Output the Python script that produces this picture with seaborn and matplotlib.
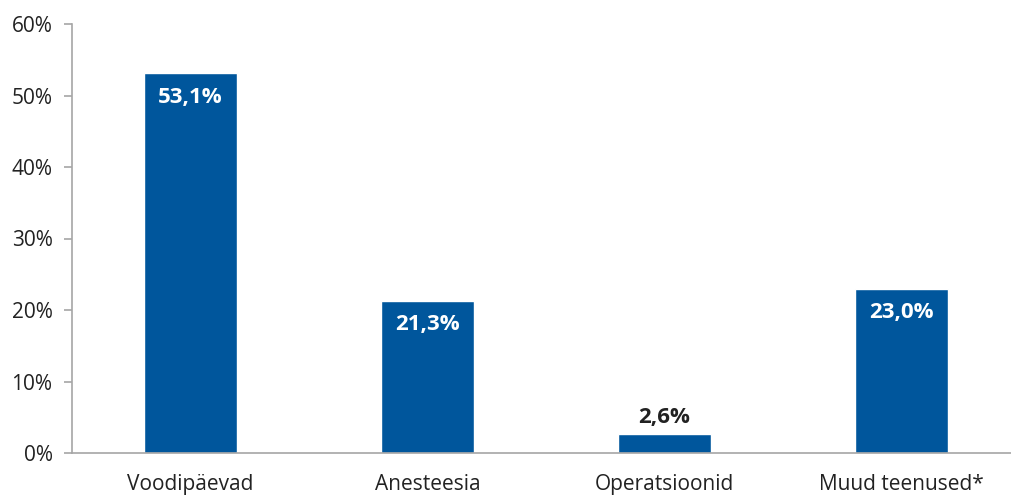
import matplotlib
matplotlib.use("Agg")
import matplotlib.pyplot as plt
import seaborn as sns
import pandas as pd
from matplotlib.ticker import FixedLocator, PercentFormatter

categories = ["Voodipäevad", "Anesteesia", "Operatsioonid", "Muud teenused*"]
values = [53.1, 21.3, 2.6, 23.0]
labels = ["53,1%", "21,3%", "2,6%", "23,0%"]
yticks = [0, 10, 20, 30, 40, 50, 60]

sns.set_style("white")
plt.rcParams['font.family'] = ['Open Sans', 'DejaVu Sans']

df = pd.DataFrame({"cat": categories, "val": values})
fig = plt.figure(figsize=(10.12, 4.97), dpi=100)
ax = fig.add_axes([72 / 1012, 44 / 497, 940 / 1012, 429 / 497])
sns.barplot(data=df, x="cat", y="val", color="#00569C", width=0.395, saturation=1, ax=ax)

ax.set_ylim(0, 60)
ax.set_xlim(-0.5, 3.466)
ax.set_yticks(yticks)
ax.yaxis.set_major_formatter(PercentFormatter(decimals=0))
ax.set_xlabel("")
ax.set_ylabel("")
for s in ["top", "right"]:
    ax.spines[s].set_visible(False)
for s in ["left", "bottom"]:
    ax.spines[s].set_color("#A6A6A6")
    ax.spines[s].set_linewidth(1.2)

# x: tick marks at category boundaries, labels at centers
ax.xaxis.set_major_locator(FixedLocator([0, 1, 2, 3]))
ax.set_xticklabels(categories)
ax.xaxis.set_minor_locator(FixedLocator([0.5, 1.5, 2.5]))
ax.tick_params(axis="x", which="major", length=0, pad=15, labelsize=15, labelcolor="#222222")
ax.tick_params(axis="x", which="minor", length=7, color="#A6A6A6", width=1.2, direction="out")
ax.tick_params(axis="y", length=6, color="#A6A6A6", width=1.2, direction="out", labelsize=15,
               labelcolor="#222222", pad=8, left=True)

for i, (v, lab) in enumerate(zip(values, labels)):
    if v > 10:
        ax.text(i, v - 1.9, lab, ha="center", va="top", color="white", fontsize=16, fontweight="bold")
    else:
        ax.text(i, v + 0.9, lab, ha="center", va="bottom", color="#222222", fontsize=16, fontweight="bold")

fig.savefig("out.png", dpi=100)
